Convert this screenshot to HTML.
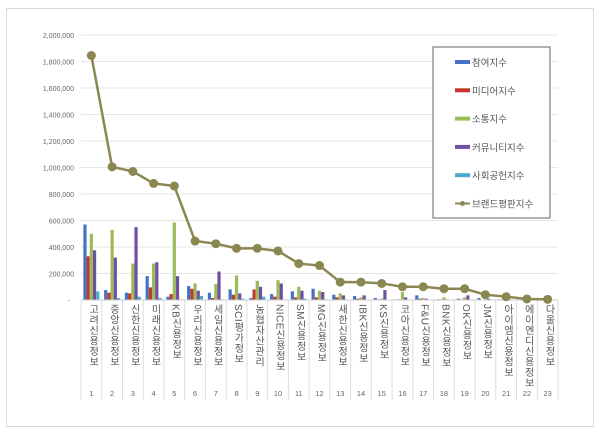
<!DOCTYPE html>
<html><head><meta charset="utf-8"><style>
body{margin:0;background:#fff;width:600px;height:434px;overflow:hidden;font-family:"Liberation Sans","Noto Sans CJK KR",sans-serif}
</style></head><body>
<svg id="c" width="600" height="434" xmlns="http://www.w3.org/2000/svg">
<rect x="6.5" y="8.5" width="587" height="418" fill="#fff" stroke="#d9d9d9"/>
</svg>
<script>
const categories=["고려신용정보","중앙신용정보","신한신용정보","미래신용정보","KB신용정보","우리신용정보","세일신용정보","SCI평가정보","농협자산관리","NICE신용정보","SM신용정보","MG신용정보","새한신용정보","IBK신용정보","KS신용정보","코아신용정보","F&U신용정보","BNK신용정보","OK신용정보","JM신용정보","아이엠신용정보","에이엔디신용정보","다올신용정보"];
const ranks=["1","2","3","4","5","6","7","8","9","10","11","12","13","14","15","16","17","18","19","20","21","22","23"];
const participation=[570000,75000,55000,180000,25000,105000,55000,80000,15000,45000,65000,85000,40000,30000,15000,5000,35000,5000,10000,15000,5000,3000,2000];
const media=[330000,55000,50000,95000,45000,85000,15000,40000,80000,25000,20000,20000,20000,10000,5000,5000,10000,5000,5000,3000,2000,2000,1000];
const communication=[500000,530000,275000,275000,585000,125000,120000,185000,145000,150000,100000,70000,50000,20000,10000,60000,15000,20000,20000,5000,5000,3000,2000];
const community=[375000,320000,550000,285000,180000,70000,215000,50000,100000,125000,70000,60000,35000,35000,75000,20000,10000,5000,35000,10000,5000,3000,2000];
const social=[65000,15000,25000,15000,5000,30000,5000,10000,25000,5000,10000,5000,5000,3000,2000,2000,2000,2000,2000,2000,1000,1000,1000];
const brand=[1845000,1005000,970000,880000,860000,445000,425000,390000,390000,370000,275000,260000,135000,135000,125000,100000,100000,85000,85000,40000,25000,8000,5000];
const yTicks=[0,200000,400000,600000,800000,1000000,1200000,1400000,1600000,1800000,2000000];
const seriesNames=["참여지수","미디어지수","소통지수","커뮤니티지수","사회공헌지수"];
const seriesColors=["#4472c4","#c0392b","#9bbb59","#7050a0","#4bacc6"];
const lineColor="#8b8750";

const svg=document.getElementById('c');const NS='http://www.w3.org/2000/svg';
const X0=81,X1=558,Y0=300,Y1=35,YMAX=2000000;
const bw=(X1-X0)/categories.length;
const y=v=>Y0-(v/YMAX)*(Y0-Y1);
const xc=i=>X0+bw*(i+0.5);
function mk(t,a){const e=document.createElementNS(NS,t);for(const k in a)e.setAttribute(k,a[k]);svg.appendChild(e);return e;}
yTicks.forEach(v=>{
 if(v>0){const g=mk('line',{x1:X0,x2:X1,y1:y(v),y2:y(v),stroke:'#e6e6e6'});
 
 }
 const t=mk('text',{x:v?74:70,y:y(v)+3,'text-anchor':'end','font-size':'7',fill:'#666'});
 t.textContent=v?v.toLocaleString('en-US'):'-';
 
 
});
const series=[participation,media,communication,community,social];
const sbw=3.2;
categories.forEach((c,i)=>{
 series.forEach((s,j)=>{
  const r=mk('rect',{x:xc(i)-sbw*2.5+j*sbw,y:y(s[i]),width:sbw,height:Y0-y(s[i]),fill:seriesColors[j]});
  
  
 });
 const l=mk('line',{x1:X0+bw*i,x2:X0+bw*i,y1:300,y2:400,stroke:'#ddd'});
 
 
 const fo=mk('foreignObject',{x:X0+bw*i,y:304,width:bw,height:90});
 
 
 const d=document.createElement('div');
 d.style.cssText='writing-mode:vertical-rl;text-orientation:mixed;font-size:10px;color:#555;margin:0 auto;line-height:'+bw+'px;height:90px;letter-spacing:0.5px;white-space:nowrap;font-family:"Liberation Sans","Noto Sans CJK KR",sans-serif';
 d.textContent=c;fo.appendChild(d);
 const n=mk('text',{x:xc(i),y:396,'text-anchor':'middle','font-size':'7.5',fill:'#666'});
 n.textContent=ranks[i];
 
 
});
mk('line',{x1:X1,x2:X1,y1:300,y2:400,stroke:'#ddd'});
const base=mk('line',{x1:X0,x2:X1,y1:Y0,y2:Y0,stroke:'#ccc'});


const pl=mk('polyline',{points:brand.map((v,i)=>xc(i)+','+y(v)).join(' '),fill:'none',stroke:lineColor,'stroke-width':2.5});


brand.forEach((v,i)=>{const c=mk('circle',{cx:xc(i),cy:y(v),r:4.5,fill:lineColor});
 
 });
const lg=mk('rect',{x:433,y:47,width:117,height:171,fill:'#fff',stroke:'#666'});


const names=seriesNames.concat(['브랜드평판지수']);
names.forEach((nm,k)=>{
 const yy=62+k*28.3;
 if(k<5){const r=mk('rect',{x:455,y:yy-2,width:15,height:4,fill:seriesColors[k]});
  
  }
 else{mk('line',{x1:455,x2:470,y1:yy,y2:yy,stroke:lineColor,'stroke-width':2});mk('circle',{cx:462.5,cy:yy,r:2.5,fill:lineColor});}
 const t=mk('text',{x:472,y:yy+4,'font-size':'9.5',fill:'#555'});
 t.textContent=nm;
 
 
});
</script>
</body></html>
